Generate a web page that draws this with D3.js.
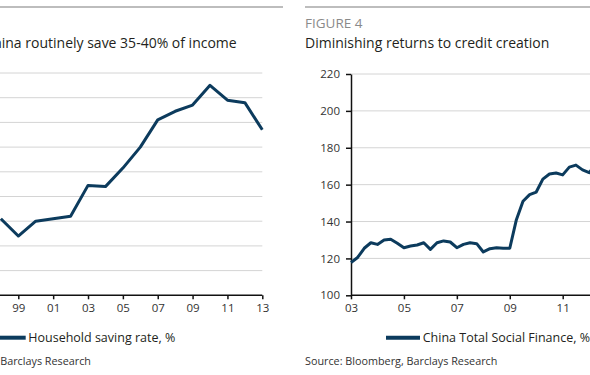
<!DOCTYPE html>
<html lang="en">
<head>
  <meta charset="UTF-8">
  <title>Saving rate and credit creation</title>
  <script src="https://cdn.jsdelivr.net/npm/d3@7"></script>
  <style>
    body { margin: 0; background: #fff; }
    svg { display: block; font-family: "Open Sans", sans-serif; }
    .grid line { stroke: #d4d4d4; stroke-width: 1px; }
    .axis path, .axis line { stroke: #111; stroke-width: 1.5px; }
    .axis text { font-size: 11.5px; fill: #333; font-family: "Open Sans", sans-serif; }
    .title { font-size: 14px; fill: #231f20; }
    .fig { font-size: 13.5px; fill: #8a8a8a; }
    .legend { font-size: 12.5px; fill: #231f20; }
    .source { font-size: 10.8px; fill: #333; }
    .series { fill: none; stroke: #0c3b5d; stroke-width: 3px; stroke-linejoin: round; }
  </style>
</head>
<body>
<div class="chart"></div>
<script>
  // left panel: household saving rate, yearly
  const savingYears = [1998, 1999, 2000, 2001, 2002, 2003, 2004, 2005, 2006, 2007, 2008, 2009, 2010, 2011, 2012, 2013];
  const savingRate  = [30.2, 28.8, 30.0, 30.2, 30.4, 32.9, 32.8, 34.3, 36.0, 38.2, 38.9, 39.4, 41.0, 39.8, 39.6, 37.4];
  const savingTicks = [1999, 2001, 2003, 2005, 2007, 2009, 2011, 2013];
  const savingGrid  = [26, 28, 30, 32, 34, 36, 38, 40, 42];

  // right panel: China total social finance, % (quarterly)
  const tsfQuarters = ['2003Q1','2003Q2','2003Q3','2003Q4','2004Q1','2004Q2','2004Q3','2004Q4',
    '2005Q1','2005Q2','2005Q3','2005Q4','2006Q1','2006Q2','2006Q3','2006Q4',
    '2007Q1','2007Q2','2007Q3','2007Q4','2008Q1','2008Q2','2008Q3','2008Q4',
    '2009Q1','2009Q2','2009Q3','2009Q4','2010Q1','2010Q2','2010Q3','2010Q4',
    '2011Q1','2011Q2','2011Q3','2011Q4','2012Q1','2012Q2'];
  const tsfValues = [117.8, 120.5, 125.5, 128.5, 127.6, 130.0, 130.4, 128.2,
    125.8, 126.7, 127.3, 128.5, 124.9, 128.5, 129.5, 128.9,
    125.8, 127.6, 128.5, 128.0, 123.5, 125.3, 125.8, 125.5,
    125.5, 141.0, 151.0, 154.6, 156.0, 163.0, 165.8, 166.3,
    165.3, 169.5, 170.6, 168.0, 166.5, 171.0];
  const tsfTicks = [2003, 2005, 2007, 2009, 2011];
  const tsfYTicks = [100, 120, 140, 160, 180, 200, 220];

  const W = 590, H = 375;
  const svg = d3.select('.chart').append('svg')
    .attr('width', W).attr('height', H);

  const yy = d => String(d % 100).padStart(2, '0');
  const qToYear = q => +q.slice(0, 4) + (+q.slice(5) - 1) / 4;

  // ---------- left panel ----------
  const L = svg.append('g');
  const xL = d3.scaleLinear().domain([1999, 2013]).range([18.3, 262.3]);
  const yL = d3.scaleLinear().domain([24, 42]).range([295.3, 73]);

  L.append('line').attr('x1', 0).attr('x2', 283).attr('y1', 7).attr('y2', 7)
    .attr('stroke', '#bdbdbd').attr('stroke-width', 2);

  L.append('text').attr('class', 'title')
    .attr('x', 236.7).attr('y', 48).attr('text-anchor', 'end')
    .text('Households in China routinely save 35-40% of income');

  L.append('g').attr('class', 'grid').selectAll('line').data(savingGrid).enter().append('line')
    .attr('x1', 0).attr('x2', xL(2013))
    .attr('y1', d => yL(d)).attr('y2', d => yL(d));

  L.append('g').attr('class', 'axis')
    .attr('transform', `translate(0 ${yL(24)})`)
    .call(d3.axisBottom(xL).tickValues(savingTicks).tickFormat(yy).tickSize(4).tickSizeOuter(0).tickPadding(5))
    .select('.domain').attr('d', `M0,0H${xL(2013)}`);

  L.append('path').attr('class', 'series')
    .datum(savingYears.map((y, i) => [y, savingRate[i]]))
    .attr('d', d3.line().x(d => xL(d[0])).y(d => yL(d[1])));

  L.append('line').attr('x1', 0).attr('x2', 25.7).attr('y1', 337.7).attr('y2', 337.7)
    .attr('stroke', '#0c3b5d').attr('stroke-width', 4);
  L.append('text').attr('class', 'legend').attr('x', 28.3).attr('y', 342)
    .text('Household saving rate, %');

  L.append('text').attr('class', 'source').attr('x', 91).attr('y', 364.5)
    .attr('text-anchor', 'end').text('Source: CEIC, Barclays Research');

  // ---------- right panel ----------
  const R = svg.append('g');
  const xR = d3.scaleLinear().domain([2003, 2011]).range([351, 562.7]);
  const yR = d3.scaleLinear().domain([100, 220]).range([295.3, 74]);

  R.append('line').attr('x1', 305).attr('x2', W).attr('y1', 7).attr('y2', 7)
    .attr('stroke', '#bdbdbd').attr('stroke-width', 2);

  R.append('text').attr('class', 'fig').attr('x', 305).attr('y', 27.5).text('FIGURE 4');
  R.append('text').attr('class', 'title').attr('x', 305).attr('y', 48)
    .text('Diminishing returns to credit creation');

  R.append('g').attr('class', 'grid').selectAll('line').data(tsfYTicks.slice(1)).enter().append('line')
    .attr('x1', xR(2003)).attr('x2', W)
    .attr('y1', d => yR(d)).attr('y2', d => yR(d));

  R.append('g').attr('class', 'axis')
    .attr('transform', `translate(${xR(2003)} 0)`)
    .call(d3.axisLeft(yR).tickValues(tsfYTicks).tickSize(5).tickSizeOuter(0).tickPadding(6));

  R.append('g').attr('class', 'axis')
    .attr('transform', `translate(0 ${yR(100)})`)
    .call(d3.axisBottom(xR).tickValues(tsfTicks).tickFormat(yy).tickSize(4).tickSizeOuter(0).tickPadding(5))
    .select('.domain').attr('d', `M${xR(2003)},0H${W + 10}`);

  R.append('path').attr('class', 'series')
    .datum(tsfQuarters.map((q, i) => [qToYear(q), tsfValues[i]]))
    .attr('d', d3.line().x(d => xR(d[0])).y(d => yR(d[1])));

  R.append('line').attr('x1', 386).attr('x2', 420).attr('y1', 337.7).attr('y2', 337.7)
    .attr('stroke', '#0c3b5d').attr('stroke-width', 4);
  R.append('text').attr('class', 'legend').attr('x', 422.7).attr('y', 342)
    .text('China Total Social Finance, %');

  R.append('text').attr('class', 'source').attr('x', 305).attr('y', 364.5)
    .text('Source:  Bloomberg, Barclays Research');
</script>
</body>
</html>
